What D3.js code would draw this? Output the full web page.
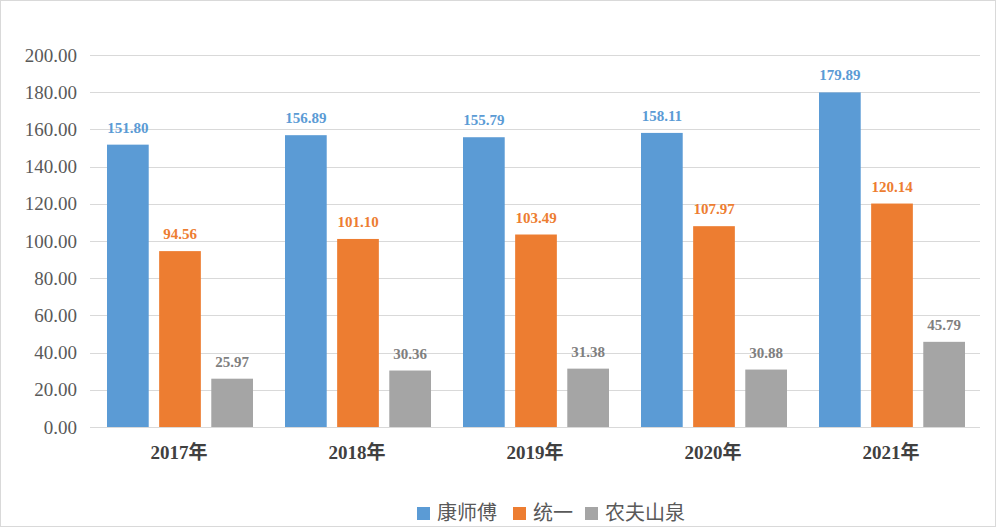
<!DOCTYPE html>
<html>
<head>
<meta charset="utf-8">
<script src="https://cdn.jsdelivr.net/npm/d3@7"></script>
<style>
  body { margin: 0; background: #fff; }
  svg { display: block; }
</style>
</head>
<body>
<script>
// chart values
var years = ['2017年', '2018年', '2019年', '2020年', '2021年'];
var seriesNames = ['康师傅', '统一', '农夫山泉'];
var kangshifu = [151.80, 156.89, 155.79, 158.11, 179.89];
var tongyi = [94.56, 101.10, 103.49, 107.97, 120.14];
var nongfu = [25.97, 30.36, 31.38, 30.88, 45.79];
var yTicks = [0, 20, 40, 60, 80, 100, 120, 140, 160, 180, 200];
var colors = ['#5b9bd5', '#ed7d31', '#a5a5a5'];
var labelColors = ['#5b9bd5', '#ed7d31', '#7f7f7f'];

(function(){

  var w = 996, h = 527;
  var pLeft = 90, pRight = 980, pTop = 55, pBottom = 427;

  var svg = d3.select('body').append('svg')
    .attr('width', w)
    .attr('height', h);

  svg.append('rect')
    .attr('x', 0.5).attr('y', 0.5)
    .attr('width', w - 1).attr('height', h - 1)
    .attr('fill', '#fff')
    .attr('stroke', '#d9d9d9');

  var allSeries = [kangshifu, tongyi, nongfu];
  var rows = years.map(function(yr, i){
    return { year: yr, values: allSeries.map(function(s, k){ return { k: k, v: s[i] }; }) };
  });

  var x0 = d3.scaleBand().domain(years).range([pLeft, pRight]).padding(0);
  var x1 = d3.scaleBand().domain([0, 1, 2]).range([17, x0.bandwidth() - 15]).paddingInner(0.2);
  var y = d3.scaleLinear().domain([0, 200]).range([pBottom, pTop]);

  // grid
  svg.append('g').selectAll('line')
    .data(yTicks)
    .enter().append('line')
    .attr('x1', pLeft).attr('x2', pRight)
    .attr('y1', function(d){ return Math.round(y(d)) + 0.5; })
    .attr('y2', function(d){ return Math.round(y(d)) + 0.5; })
    .attr('stroke', '#d9d9d9')
    .attr('stroke-width', 1);

  // y axis labels
  var yAxis = d3.axisLeft(y).tickValues(yTicks).tickSize(0).tickPadding(0)
    .tickFormat(function(d){ return d3.format('.2f')(d); });
  var gy = svg.append('g').attr('transform', 'translate(77,0)').call(yAxis);
  gy.select('.domain').remove();
  gy.selectAll('text')
    .attr('fill', '#595959')
    .style('font-family', '"Liberation Serif", "DejaVu Serif", serif')
    .style('font-size', '19px');

  // bars
  var groups = svg.append('g').selectAll('g')
    .data(rows)
    .enter().append('g')
    .attr('transform', function(d){ return 'translate(' + x0(d.year) + ',0)'; });

  groups.selectAll('rect')
    .data(function(d){ return d.values; })
    .enter().append('rect')
    .attr('x', function(d){ return x1(d.k); })
    .attr('y', function(d){ return y(d.v); })
    .attr('width', x1.bandwidth())
    .attr('height', function(d){ return y(0) - y(d.v); })
    .attr('fill', function(d){ return colors[d.k]; });

  groups.selectAll('text')
    .data(function(d){ return d.values; })
    .enter().append('text')
    .attr('x', function(d){ return x1(d.k) + x1.bandwidth() / 2; })
    .attr('y', function(d){ return y(d.v) - 12; })
    .attr('text-anchor', 'middle')
    .attr('fill', function(d){ return labelColors[d.k]; })
    .style('font-family', '"Liberation Serif", "DejaVu Serif", serif')
    .style('font-weight', 'bold')
    .style('font-size', '15px')
    .text(function(d){ return d3.format('.2f')(d.v); });

  // x axis line
  svg.append('line')
    .attr('x1', pLeft).attr('x2', pRight)
    .attr('y1', pBottom + 0.5).attr('y2', pBottom + 0.5)
    .attr('stroke', '#d9d9d9');

  var xAxis = d3.axisBottom(x0).tickSize(0).tickPadding(0);
  var gx = svg.append('g').attr('transform', 'translate(0,' + (pBottom + 18) + ')').call(xAxis);
  gx.select('.domain').remove();
  gx.selectAll('text')
    .attr('fill', '#404040')
    .style('font-family', '"Liberation Serif", "Noto Sans CJK SC", serif')
    .style('font-weight', 'bold')
    .style('font-size', '19px');

  // legend
  var legendX = [417, 513, 585];
  var legend = svg.append('g').selectAll('g')
    .data(seriesNames)
    .enter().append('g')
    .attr('transform', function(d, i){ return 'translate(' + legendX[i] + ',507)'; });
  legend.append('rect')
    .attr('width', 13).attr('height', 13)
    .attr('fill', function(d, i){ return colors[i]; });
  legend.append('text')
    .attr('x', 20).attr('y', 13)
    .attr('fill', '#595959')
    .style('font-family', '"Noto Sans CJK SC", sans-serif')
    .style('font-size', '20px')
    .text(function(d){ return d; });

})();
</script>
</body>
</html>
